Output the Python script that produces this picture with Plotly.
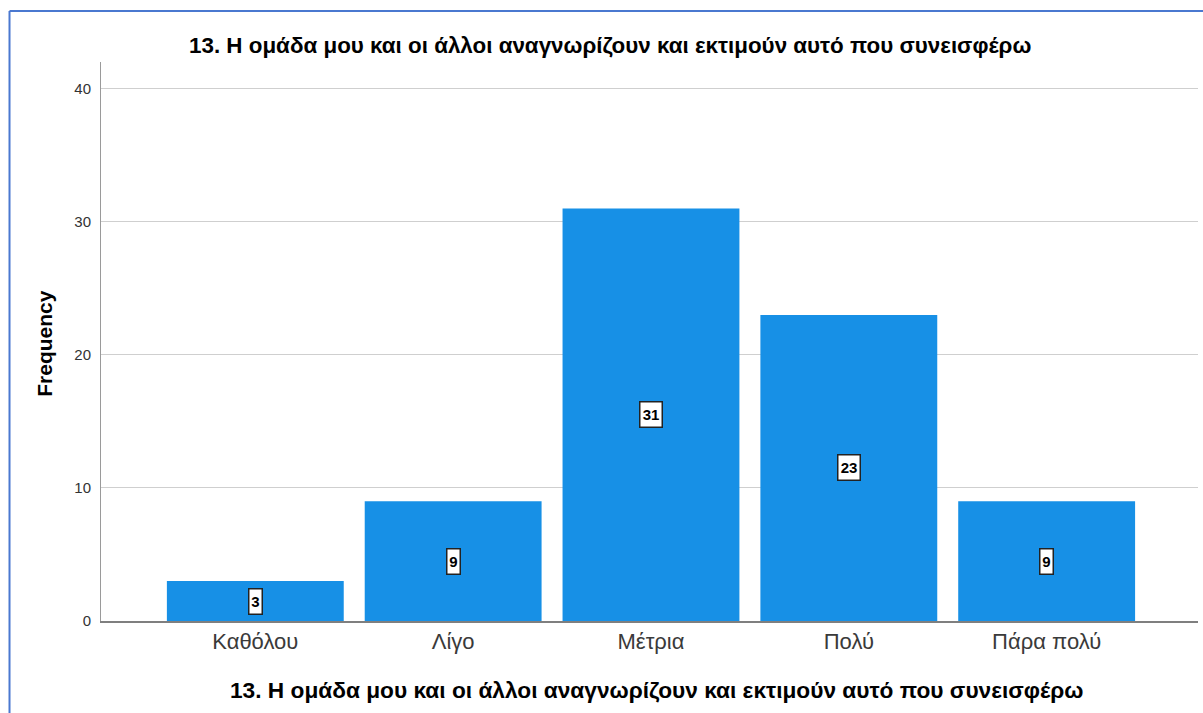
import plotly.graph_objects as go

categories = ["Καθόλου", "Λίγο", "Μέτρια", "Πολύ", "Πάρα πολύ"]
frequencies = [3, 9, 31, 23, 9]
title_text = "13. Η ομάδα μου και οι άλλοι αναγνωρίζουν και εκτιμούν αυτό που συνεισφέρω"
y_ticks = [0, 10, 20, 30, 40]

BAR_COLOR = "#1790E6"
FONT = "Liberation Sans, Arial, sans-serif"

fig = go.Figure(
    go.Bar(
        x=list(range(len(categories))),
        y=frequencies,
        width=0.894,
        marker=dict(color=BAR_COLOR, line=dict(width=0)),
        hoverinfo="skip",
    )
)

# value labels in boxes at mid-height of each bar
for i, v in enumerate(frequencies):
    label = str(v)
    fig.add_annotation(
        x=i, y=v / 2, text=f"<b>{label}</b>", showarrow=False,
        font=dict(family=FONT, size=15, color="black"),
        width=9 * len(label) + 1, height=22, align="center", valign="middle",
        bgcolor="white", bordercolor="#222", borderwidth=1.5, borderpad=1,
    )

# chart title and axis titles
fig.add_annotation(
    xref="paper", yref="paper", x=0.464, y=1.0, yshift=17, yanchor="middle",
    text=f"<b>{title_text}</b>", showarrow=False,
    font=dict(family=FONT, size=22.4, color="black"),
)
fig.add_annotation(
    xref="paper", yref="paper", x=0.506, y=0, yshift=-69, yanchor="middle",
    text=f"<b>{title_text}</b>", showarrow=False,
    font=dict(family=FONT, size=22.7, color="black"),
)
fig.add_annotation(
    xref="paper", yref="paper", x=0, xshift=-56, y=0.496, textangle=-90,
    xanchor="center", yanchor="middle",
    text="<b>Frequency</b>", showarrow=False,
    font=dict(family=FONT, size=21, color="black"),
)

# blue frame on the left and top edges
fig.add_shape(type="line", xref="paper", yref="paper",
              x0=-0.0834, x1=-0.0834, y0=-0.3, y1=1.0912,
              line=dict(color="#4A78D0", width=2))
fig.add_shape(type="line", xref="paper", yref="paper",
              x0=-0.0834, x1=1.2, y0=1.0912, y1=1.0912,
              line=dict(color="#4A78D0", width=2))

fig.update_layout(
    width=1203, height=713,
    margin=dict(l=101, r=5, t=62, b=92),
    paper_bgcolor="white", plot_bgcolor="white",
    showlegend=False,
    xaxis=dict(
        tickmode="array", tickvals=list(range(len(categories))), ticktext=categories,
        range=[-0.78, 4.765], showgrid=False, zeroline=False,
        showline=True, linecolor="#7f7f7f", linewidth=2, ticks="",
        tickfont=dict(family=FONT, size=22, color="#3a3a3a"),
    ),
    yaxis=dict(
        range=[0, 42], tickvals=y_ticks, showgrid=True, gridcolor="#cfcfcf",
        gridwidth=1, zeroline=False, showline=True, linecolor="#9a9a9a",
        linewidth=1, ticks="", ticklabelstandoff=6,
        tickfont=dict(family=FONT, size=15, color="#333"),
    ),
)

fig.write_html("out.html")
